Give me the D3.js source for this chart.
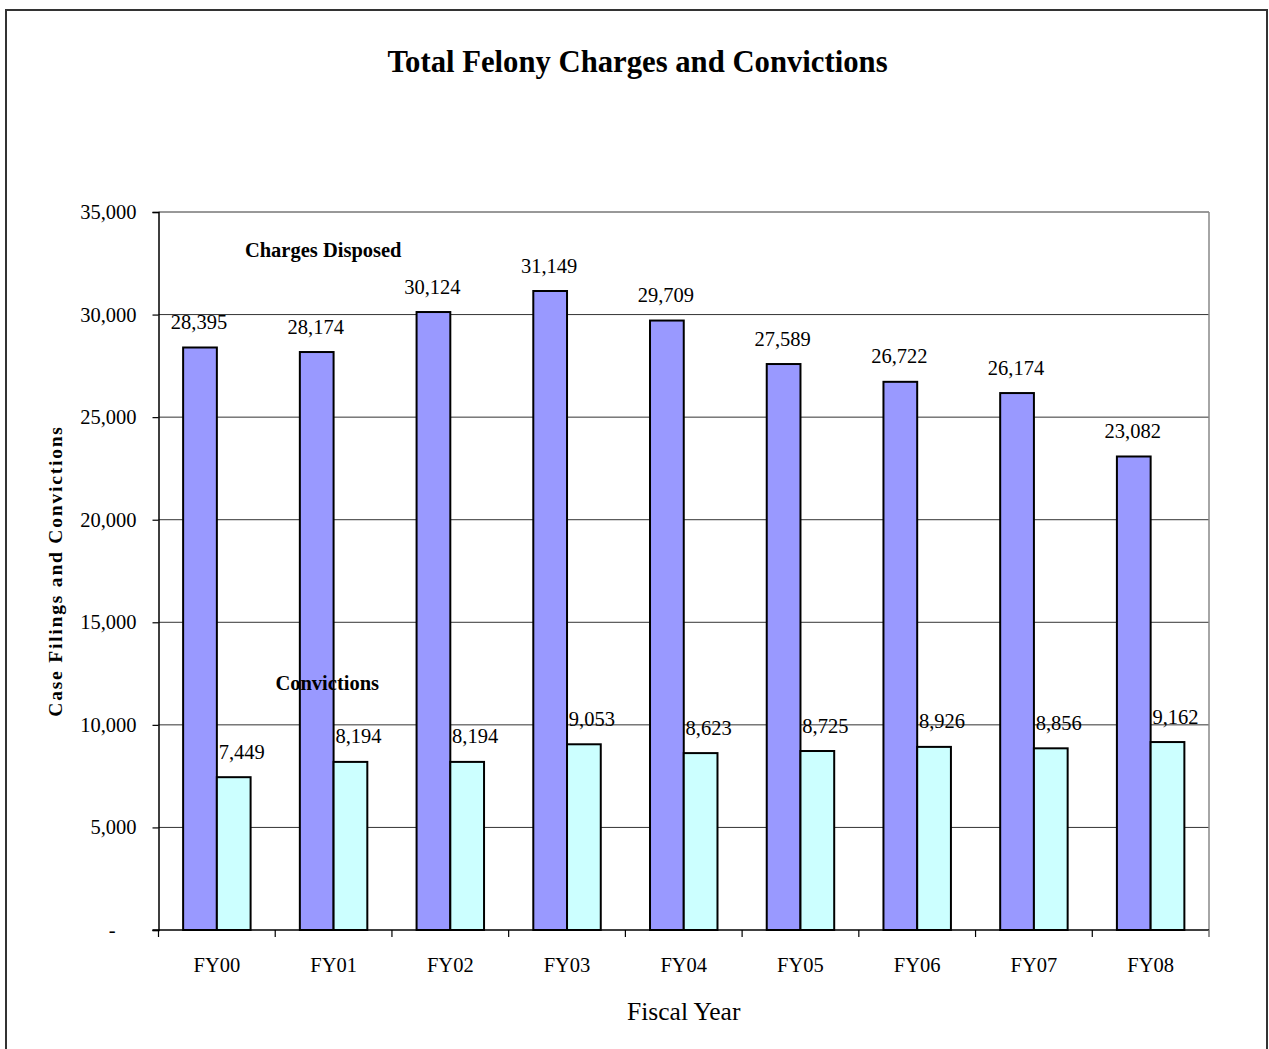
<!DOCTYPE html>
<html>
<head>
<meta charset="utf-8">
<script src="https://cdn.jsdelivr.net/npm/d3@7"></script>
<style>
  body { margin: 0; background: #fff; }
  svg { display: block; font-family: "Liberation Serif", "Times New Roman", serif; }
</style>
</head>
<body>
<svg id="chart" width="1269" height="1049"></svg>
<script>
const categories = ["FY00", "FY01", "FY02", "FY03", "FY04", "FY05", "FY06", "FY07", "FY08"];
const seriesNames = ["Charges Disposed", "Convictions"];
const chargesDisposed = [28395, 28174, 30124, 31149, 29709, 27589, 26722, 26174, 23082];
const convictions = [7449, 8194, 8194, 9053, 8623, 8725, 8926, 8856, 9162];
const yTicks = [0, 5000, 10000, 15000, 20000, 25000, 30000, 35000];
const seriesColors = ["#9999FF", "#CCFFFF"];
const titleText = "Total Felony Charges and Convictions";
const xTitle = "Fiscal Year";
const yTitle = "Case Filings and Convictions";

const svg = d3.select("#chart");
const plot = { left: 158.5, right: 1209, top: 212, bottom: 930 };

// outer frame
svg.append("rect").attr("x", 6).attr("y", 10).attr("width", 1261).attr("height", 1060)
  .attr("fill", "#fff").attr("stroke", "#333").attr("stroke-width", 2);

const x0 = d3.scaleBand().domain(categories).range([plot.left, plot.right]).padding(0);
const x1 = d3.scaleBand().domain(seriesNames).range([0, x0.bandwidth()]).paddingInner(0).paddingOuter(0.73);
const y = d3.scaleLinear().domain([0, 35000]).range([plot.bottom, plot.top]);

// gridlines
svg.append("g").selectAll("line").data(yTicks.filter(d => d > 0)).join("line")
  .attr("x1", plot.left).attr("x2", plot.right)
  .attr("y1", d => y(d)).attr("y2", d => y(d))
  .attr("stroke", "#333").attr("stroke-width", 1);

// right plot border
svg.append("line").attr("x1", plot.right).attr("x2", plot.right)
  .attr("y1", plot.top).attr("y2", plot.bottom + 7)
  .attr("stroke", "#888").attr("stroke-width", 1.5);

// bars
const data = categories.map((c, i) => ({ cat: c, values: [chargesDisposed[i], convictions[i]] }));
const groups = svg.append("g").selectAll("g").data(data).join("g")
  .attr("transform", d => `translate(${x0(d.cat)},0)`);
groups.selectAll("rect").data(d => d.values.map((v, j) => ({ s: seriesNames[j], v, j }))).join("rect")
  .attr("x", d => x1(d.s)).attr("width", x1.bandwidth())
  .attr("y", d => y(d.v)).attr("height", d => y(0) - y(d.v))
  .attr("fill", d => seriesColors[d.j]).attr("stroke", "#000").attr("stroke-width", 2);

// value labels
const fmt = d3.format(",");
groups.selectAll("text").data(d => d.values.map((v, j) => ({ s: seriesNames[j], v, j }))).join("text")
  .attr("x", d => x1(d.s) + x1.bandwidth() / 2 + (d.j === 1 ? 8 : -1))
  .attr("y", d => y(d.v) - 18.5)
  .attr("text-anchor", "middle").attr("font-size", 20.5).attr("fill", "#000")
  .text(d => fmt(d.v));

// y axis
const yAxis = d3.axisLeft(y).tickValues(yTicks).tickSize(6).tickPadding(16)
  .tickFormat(d => d === 0 ? "-" : fmt(d));
const yg = svg.append("g").attr("transform", `translate(${plot.left},0)`).call(yAxis);
yg.select(".domain").attr("stroke", "#000").attr("stroke-width", 1.5);
yg.selectAll(".tick line").attr("stroke", "#000").attr("stroke-width", 1.2);
yg.selectAll(".tick text").attr("font-size", 20.5).attr("font-family", "Liberation Serif").attr("fill", "#000");
yg.selectAll(".tick text").filter(d => d === 0).attr("dx", -21);

// x axis
const xAxis = d3.axisBottom(x0).tickSize(0).tickPadding(0).tickFormat(d => d);
const xg = svg.append("g").attr("transform", `translate(0,${plot.bottom})`).call(xAxis);
xg.select(".domain").remove();
xg.selectAll(".tick text").attr("font-size", 20.5).attr("font-family", "Liberation Serif")
  .attr("fill", "#000").attr("dy", 0).attr("y", 42);
svg.append("line").attr("x1", plot.left - 6).attr("x2", plot.right)
  .attr("y1", plot.bottom).attr("y2", plot.bottom).attr("stroke", "#000").attr("stroke-width", 1.5);
// category boundary ticks
const bounds = categories.map(c => x0(c)).concat([plot.right]);
svg.append("g").selectAll("line").data(bounds).join("line")
  .attr("x1", d => d).attr("x2", d => d)
  .attr("y1", plot.bottom).attr("y2", plot.bottom + 7)
  .attr("stroke", (d, i) => i === bounds.length - 1 ? "#888" : "#000").attr("stroke-width", 1.2);

// title
svg.append("text").attr("x", 637.5).attr("y", 72).attr("text-anchor", "middle")
  .attr("font-size", 30.7).attr("font-weight", "bold").text(titleText);
svg.append("text").attr("x", (plot.left + plot.right) / 2).attr("y", 1020).attr("text-anchor", "middle")
  .attr("font-size", 25.5).text(xTitle);
svg.append("text").attr("transform", `translate(62,${(plot.top + plot.bottom) / 2}) rotate(-90)`)
  .attr("text-anchor", "middle").attr("font-size", 19.5).attr("font-weight", "bold")
  .attr("letter-spacing", 1.8).text(yTitle);

// series annotations
svg.append("text").attr("x", x0("FY01") + 48).attr("y", y(32800)).attr("text-anchor", "middle")
  .attr("font-size", 20.5).attr("font-weight", "bold").text(seriesNames[0]);
svg.append("text").attr("x", x0("FY01") + 52).attr("y", y(11700)).attr("text-anchor", "middle")
  .attr("font-size", 20.5).attr("font-weight", "bold").text(seriesNames[1]);
</script>
</body>
</html>
